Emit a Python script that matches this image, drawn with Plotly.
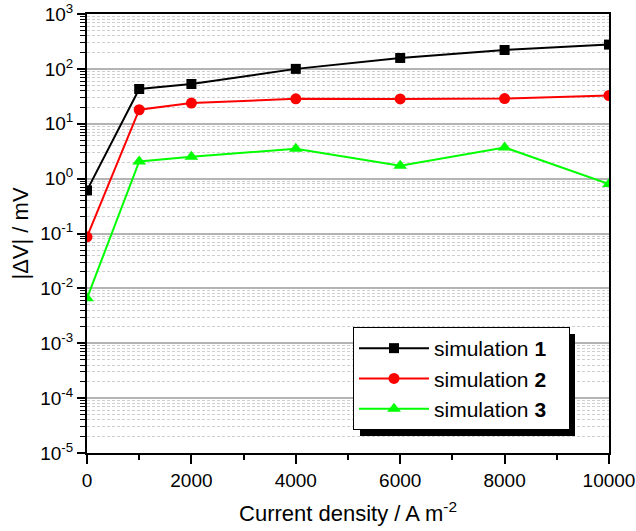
import plotly.graph_objects as go

# Current density (A m^-2) and |ΔV| (mV) for each simulation
current_density = [0, 1000, 2000, 4000, 6000, 8000, 10000]
sim1 = [0.61, 43, 53, 100, 158, 221, 277]
sim2 = [0.087, 18, 23.8, 28.5, 28.3, 28.8, 32.7]
sim3 = [0.0066, 2.06, 2.5, 3.5, 1.72, 3.7, 0.8]

series_names = ["simulation <b>1</b>", "simulation <b>2</b>", "simulation <b>3</b>"]
series_colors = ["#000000", "#ff0000", "#00ff00"]
series_symbols = ["square", "circle", "triangle-up"]
series_sizes = [10, 11, 12]

y_exponents = [-5, -4, -3, -2, -1, 0, 1, 2, 3]
x_ticks = [0, 2000, 4000, 6000, 8000, 10000]

FONT = "Arial, Liberation Sans, sans-serif"
L, R, T, B = 87, 27, 14, 78
PW, PH = 636 - L - R, 531 - T - B

fig = go.Figure()
for name, ys, col, sym, sz in zip(series_names, [sim1, sim2, sim3],
                                  series_colors, series_symbols, series_sizes):
    fig.add_trace(go.Scatter(
        x=current_density, y=ys, name=name + "\u00a0" * 3, mode="lines+markers",
        line=dict(color=col, width=2),
        marker=dict(color=col, symbol=sym, size=sz),
    ))

y_minor = [m * 10.0 ** e for e in y_exponents[:-1] for m in range(2, 10)]

fig.update_xaxes(
    range=[0, 10000], tickvals=x_ticks, ticktext=[str(v) for v in x_ticks],
    automargin=False,
    ticks="outside", ticklen=9, tickwidth=1.5, tickcolor="black",
    showline=True, linecolor="black", linewidth=2, mirror=True,
    showgrid=False, zeroline=False,
    minor=dict(tickvals=[1000, 3000, 5000, 7000, 9000], ticks="outside",
               ticklen=5, tickwidth=1.5, tickcolor="black", showgrid=False),
    tickfont=dict(family=FONT, size=19, color="black"),
    title=dict(text="Current density / A m<sup>-2</sup>",
               font=dict(family=FONT, size=22, color="black"), standoff=16),
)
fig.update_yaxes(
    type="log", range=[-5, 3], automargin=False,
    tickvals=[10.0 ** e for e in y_exponents],
    ticktext=[f"10<sup>{e}</sup>" for e in y_exponents],
    ticks="outside", ticklen=8, tickwidth=1.5, tickcolor="black",
    showline=True, linecolor="black", linewidth=2, mirror=True,
    showgrid=True, gridcolor="#b4b4b4", gridwidth=1.5, zeroline=False,
    minor=dict(tickvals=y_minor, ticks="outside", ticklen=5, tickwidth=1.2,
               tickcolor="black", showgrid=True, gridcolor="#cfcfcf",
               gridwidth=1, griddash="3px,2px"),
    tickfont=dict(family=FONT, size=19, color="black"),
    title=dict(text="|ΔV| / mV", font=dict(family=FONT, size=22, color="black"),
               standoff=6),
)

# Legend box (pixel bounds) and its drop shadow
LEG_X0, LEG_Y0 = 353, 327
SHADOW = 7
LEG_W, LEG_H = 215, 102
fig.add_shape(type="rect", xref="paper", yref="paper",
              x0=(LEG_X0 + SHADOW - L) / PW, x1=(LEG_X0 + LEG_W + SHADOW - L) / PW,
              y0=(T + PH - (LEG_Y0 + LEG_H + SHADOW)) / PH,
              y1=(T + PH - (LEG_Y0 + SHADOW)) / PH,
              fillcolor="black", line=dict(width=0), layer="above")

fig.update_layout(
    width=636, height=531,
    margin=dict(l=L, r=R, t=T, b=B),
    paper_bgcolor="white", plot_bgcolor="white",
    showlegend=True,
    legend=dict(
        x=(LEG_X0 - L) / PW, y=(T + PH - LEG_Y0) / PH,
        xanchor="left", yanchor="top",
        bgcolor="white", bordercolor="black", borderwidth=1,
        font=dict(family=FONT, size=21, color="black"),
        itemwidth=70, tracegroupgap=0,
    ),
)

fig.write_html("out.html")
